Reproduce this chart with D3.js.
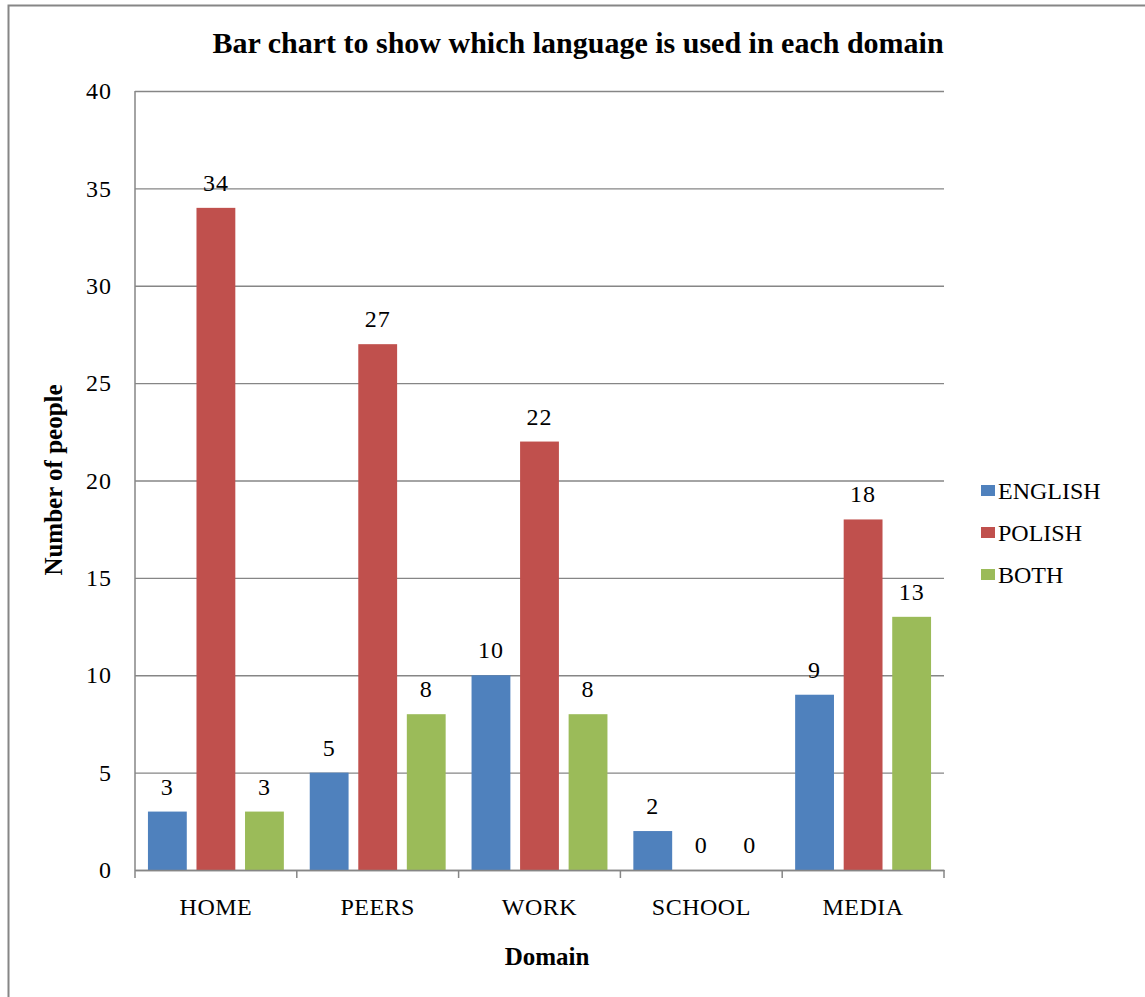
<!DOCTYPE html>
<html>
<head>
<meta charset="utf-8">
<script src="https://cdn.jsdelivr.net/npm/d3@7"></script>
<style>
  html, body { margin: 0; padding: 0; background: #fff; }
  svg { display: block; }
  svg text { font-family: "Liberation Serif", "Times New Roman", serif; }
</style>
</head>
<body>
<svg id="chart" width="1145" height="997"></svg>
<script>
// Survey data: which language respondents use in each domain
const domains = ["HOME", "PEERS", "WORK", "SCHOOL", "MEDIA"];
const seriesNames = ["ENGLISH", "POLISH", "BOTH"];
const englishValues = [3, 5, 10, 2, 9];
const polishValues = [34, 27, 22, 0, 18];
const bothValues = [3, 8, 8, 0, 13];
const yTicks = [0, 5, 10, 15, 20, 25, 30, 35, 40];
const colors = ["#4F81BD", "#C0504D", "#9BBB59"];

const seriesValues = [englishValues, polishValues, bothValues];
const rows = domains.map((d, i) => ({
  domain: d,
  values: seriesNames.map((s, j) => ({ series: s, value: seriesValues[j][i] }))
}));

const FONT = "Liberation Serif";
const svg = d3.select("#chart").attr("font-family", FONT);
const W = 1145, H = 997;
const plot = { left: 135, right: 944, top: 91, bottom: 870 };
const axisGray = "#868686";

svg.append("rect").attr("width", W).attr("height", H).attr("fill", "#fff");
// chart frame (continues past the right and bottom edges)
svg.append("rect")
  .attr("x", 8.5).attr("y", 5.5)
  .attr("width", 1200).attr("height", 1100)
  .attr("fill", "none").attr("stroke", axisGray).attr("stroke-width", 2);

const x0 = d3.scaleBand().domain(domains).range([plot.left, plot.right]).padding(0);
const bw = x0.bandwidth();
const x1 = d3.scaleBand().domain(seriesNames)
  .range([bw * 0.08, bw * 0.92]).paddingInner(0.2).paddingOuter(0);
const y = d3.scaleLinear().domain([0, 40]).range([plot.bottom, plot.top]);
const color = d3.scaleOrdinal().domain(seriesNames).range(colors);

// horizontal gridlines + value axis labels
const yAxis = svg.append("g")
  .attr("transform", `translate(${plot.left},0)`)
  .call(d3.axisLeft(y).tickValues(yTicks).tickSize(-(plot.right - plot.left)).tickPadding(23));
yAxis.attr("font-family", FONT);
yAxis.select(".domain").remove();
yAxis.selectAll(".tick line").attr("stroke", axisGray).attr("stroke-width", 1.3);
yAxis.selectAll(".tick text")
  .attr("font-family", FONT)
  .attr("font-size", 24).attr("fill", "#000")
  .style("letter-spacing", "1px");

// left axis line
svg.append("line")
  .attr("x1", plot.left).attr("x2", plot.left)
  .attr("y1", plot.top).attr("y2", plot.bottom)
  .attr("stroke", axisGray).attr("stroke-width", 1.5);

// bars
const groups = svg.append("g").selectAll("g").data(rows).join("g")
  .attr("transform", d => `translate(${x0(d.domain)},0)`);
groups.selectAll("rect").data(d => d.values).join("rect")
  .attr("x", d => x1(d.series))
  .attr("y", d => y(d.value))
  .attr("width", x1.bandwidth())
  .attr("height", d => y(0) - y(d.value))
  .attr("fill", d => color(d.series));

// value labels above bars
groups.selectAll("text").data(d => d.values).join("text")
  .attr("x", d => x1(d.series) + x1.bandwidth() / 2)
  .attr("y", d => y(d.value) - 17)
  .attr("text-anchor", "middle")
  .attr("font-family", FONT)
  .attr("font-size", 24).attr("fill", "#000")
  .style("letter-spacing", "1px")
  .text(d => d.value);

// category axis
const xAxis = svg.append("g")
  .attr("transform", `translate(0,${plot.bottom})`)
  .call(d3.axisBottom(x0).tickSize(0).tickPadding(28));
xAxis.attr("font-family", FONT);
xAxis.select(".domain").attr("stroke", axisGray).attr("stroke-width", 1.5);
xAxis.selectAll(".tick text")
  .attr("font-family", FONT)
  .attr("font-size", 24).attr("fill", "#000")
  .style("letter-spacing", "0.5px");
// category boundary tick marks
const bounds = domains.map(d => x0(d)).concat([x0(domains[domains.length - 1]) + x0.step()]);
xAxis.selectAll(".bound").data(bounds).join("line")
  .attr("class", "bound")
  .attr("x1", d => d).attr("x2", d => d)
  .attr("y1", 0).attr("y2", 8)
  .attr("stroke", axisGray).attr("stroke-width", 1.5);

// title
svg.append("text")
  .attr("x", 578).attr("y", 53)
  .attr("text-anchor", "middle")
  .attr("font-family", FONT)
  .attr("font-size", 30).attr("font-weight", "bold")
  .text("Bar chart to show which language is used in each domain");

// axis titles
svg.append("text")
  .attr("x", 547).attr("y", 965)
  .attr("text-anchor", "middle")
  .attr("font-family", FONT)
  .attr("font-size", 25).attr("font-weight", "bold")
  .text("Domain");
svg.append("text")
  .attr("transform", "translate(62,480) rotate(-90)")
  .attr("text-anchor", "middle")
  .attr("font-family", FONT)
  .attr("font-size", 25).attr("font-weight", "bold")
  .text("Number of people");

// legend
const legend = svg.append("g").attr("transform", "translate(981,0)");
const leg = legend.selectAll("g").data(seriesNames).join("g")
  .attr("transform", (d, i) => `translate(0,${490 + i * 42})`);
leg.append("rect")
  .attr("x", 0).attr("y", -5).attr("width", 14).attr("height", 11)
  .attr("fill", d => color(d));
leg.append("text")
  .attr("x", 17).attr("y", 9)
  .attr("font-family", FONT)
  .attr("font-size", 24).attr("fill", "#000")
  .text(d => d);
</script>
</body>
</html>
